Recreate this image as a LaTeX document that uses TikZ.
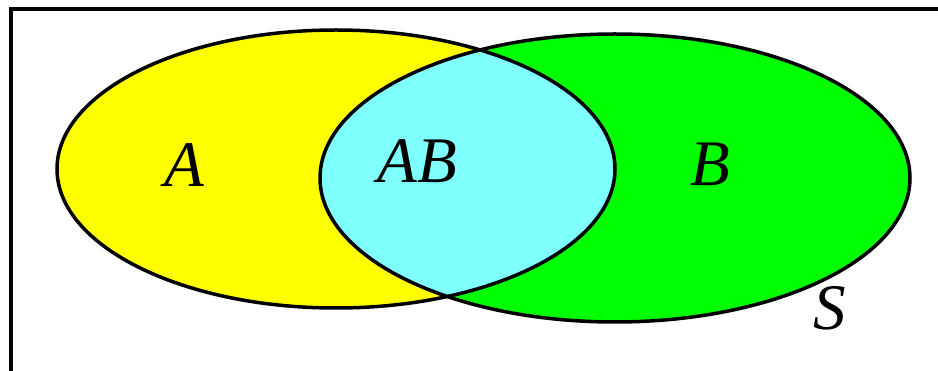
\documentclass[tikz,border=0pt]{standalone}
\usepackage{fontspec}
\setmainfont{Liberation Serif}
\definecolor{setA}{HTML}{FFFF00}
\definecolor{setB}{HTML}{00FF00}
\definecolor{setAB}{HTML}{80FFFF}
\begin{document}
\begin{tikzpicture}[x=1pt,y=-1pt,
  outline/.style={draw=black,line width=3.5pt},
  frameline/.style={draw=black,line width=4pt},
  lbl/.style={anchor=base,inner sep=0pt,font=\fontsize{65}{70}\selectfont\itshape}]
\useasboundingbox (0,0) rectangle (938,371);
% fills
\fill[setA] (336,169) ellipse [x radius=279,y radius=139];
\fill[setB] (615,178) ellipse [x radius=295,y radius=144];
\begin{scope}
  \clip (336,169) ellipse [x radius=279,y radius=139];
  \fill[setAB] (615,178) ellipse [x radius=295,y radius=144];
\end{scope}
% outlines
\path[outline] (336,169) ellipse [x radius=279,y radius=139];
\path[outline] (615,178) ellipse [x radius=295,y radius=144];
% frame
\coordinate (fbl) at (10.5,373);
\coordinate (ftl) at (10.5,8.7);
\coordinate (ftr) at (940,8.7);
\path[frameline] (fbl) -- (ftl) -- (ftr);
% labels
\node[lbl] (labA) at (184,187) {A};
\node[lbl] (labAB) at (417,183) {AB};
\node[lbl] (labB) at (710,186) {B};
\node[lbl] (labS) at (830,330) {S};
\end{tikzpicture}
\end{document}
